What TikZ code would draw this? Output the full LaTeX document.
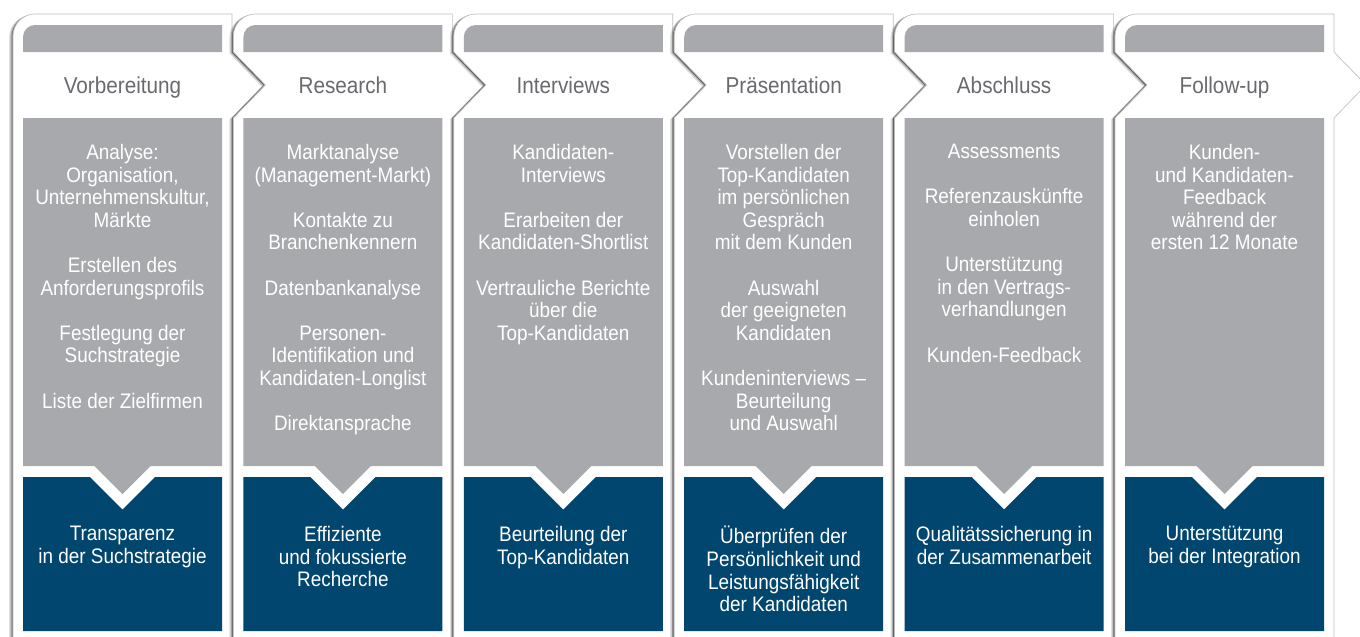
\documentclass[tikz,border=0pt]{standalone}
\usepackage{fontspec}
\newfontfamily\cardfont{Liberation Sans}[FakeStretch=0.9]
\definecolor{cardgray}{RGB}{167,169,172}
\definecolor{cardblue}{RGB}{0,70,110}
\definecolor{titlegray}{RGB}{105,106,110}
\newcommand\gap{\\[16.95pt]}

\begin{document}
\begin{tikzpicture}[x=0.75pt,y=-0.75pt,
  bodytext/.style={anchor=north, align=center, inner sep=0pt, text=white,
    font=\cardfont\fontsize{15.75pt}{16.95pt}\selectfont,
    execute at begin node={\rule{0pt}{15pt}}},
  titletext/.style={anchor=base, inner sep=0pt, text=titlegray,
    font=\cardfont\fontsize{17.25pt}{20pt}\selectfont},
  cardfill/.style={fill=white, draw=black!25, line width=0.5pt},
  shadowfill/.style={fill=black, draw=none}]
\lineskiplimit=-30pt
\useasboundingbox (0,0) rectangle (1360,636);
\clip (0,0) rectangle (1360,636);

% six process cards, each one a chevron with header, body and result panel
\foreach \i in {0,...,5} {
  \pgfmathsetmacro\L{13+220.4*\i}
  \pgfmathsetmacro\R{\L+219}
  \pgfmathsetmacro\iL{\L+10}
  \pgfmathsetmacro\iR{\L+209}
  \pgfmathsetmacro\cx{\L+109.5}
  \ifnum\i=0 \def\notch{}\else\def\notch{-- (\L,118) -- ({\L+32},85) -- (\L,52)}\fi
  \def\card{(\L,700) \notch -- (\L,36) .. controls (\L,23.9) and ({\L+9.9},14) .. ({\L+22},14)
     -- (\R,14) -- (\R,52) -- ({\R+32},85) -- (\R,118) -- (\R,700) -- cycle}
  % soft shadow to the left
  \fill[shadowfill, opacity=0.12, shift={(-4,1.5)}] \card;
  \fill[shadowfill, opacity=0.20, shift={(-2.7,1)}] \card;
  \fill[shadowfill, opacity=0.32, shift={(-1.4,0.5)}] \card;
  \path[cardfill] \card;
  % header bar
  \fill[cardgray] (\iL,52) -- (\iL,37) .. controls (\iL,30.4) and ({\iL+5.4},25) .. ({\iL+12},25)
     -- (\iR,25) -- (\iR,52) -- cycle;
  % body panel with its downward tab
  \fill[cardgray] (\iL,118) -- (\iR,118) -- (\iR,466) -- ({\cx+28},466) -- (\cx,494)
     -- ({\cx-28},466) -- (\iL,466) -- cycle;
  % result panel, notched around the tab
  \fill[cardblue] (\iL,477) -- ({\cx-32.6},477) -- (\cx,509.6) -- ({\cx+32.6},477)
     -- (\iR,477) -- (\iR,631) -- (\iL,631) -- cycle;
}

% titles
\node[titletext] (t1) at (122.5,93) {Vorbereitung};
\node[titletext] (t2) at (342.9,93) {Research};
\node[titletext] (t3) at (563.3,93) {Interviews};
\node[titletext] (t4) at (783.7,93) {Präsentation};
\node[titletext] (t5) at (1004.1,93) {Abschluss};
\node[titletext] (t6) at (1224.5,93) {Follow-up};

% activities
\node[bodytext] (b1) at (122.5,144) {Analyse:\\Organisation,\\Unternehmenskultur,\\Märkte\gap
  Erstellen des\\Anforderungsprofils\gap Festlegung der\\Suchstrategie\gap Liste der Zielfirmen};
\node[bodytext] (b2) at (342.9,144) {Marktanalyse\\(Management-Markt)\gap Kontakte zu\\Branchenkennern\gap
  Datenbankanalyse\gap Personen-\\Identifikation und\\Kandidaten-Longlist\gap Direktansprache};
\node[bodytext] (b3) at (563.3,144) {Kandidaten-\\Interviews\gap Erarbeiten der\\Kandidaten-Shortlist\gap
  Vertrauliche Berichte\\über die\\Top-Kandidaten};
\node[bodytext] (b4) at (783.7,144) {Vorstellen der\\Top-Kandidaten\\im persönlichen\\Gespräch\\mit dem Kunden\gap
  Auswahl\\der geeigneten\\Kandidaten\gap Kundeninterviews –\\Beurteilung\\und Auswahl};
\node[bodytext] (b5) at (1004.1,144) {Assessments\gap Referenzauskünfte\\einholen\gap
  Unterstützung\\in den Vertrags-\\verhandlungen\gap Kunden-Feedback};
\node[bodytext] (b6) at (1224.5,144) {Kunden-\\und Kandidaten-\\Feedback\\während der\\ersten 12 Monate};

% results
\node[bodytext] (r1) at (122.5,526) {Transparenz\\in der Suchstrategie};
\node[bodytext] (r2) at (342.9,526) {Effiziente\\und fokussierte\\Recherche};
\node[bodytext] (r3) at (563.3,526) {Beurteilung der\\Top-Kandidaten};
\node[bodytext] (r4) at (783.7,526) {Überprüfen der\\Persönlichkeit und\\Leistungsfähigkeit\\der Kandidaten};
\node[bodytext] (r5) at (1004.1,526) {Qualitätssicherung in\\der Zusammenarbeit};
\node[bodytext] (r6) at (1224.5,526) {Unterstützung\\bei der Integration};
\end{tikzpicture}
\end{document}
